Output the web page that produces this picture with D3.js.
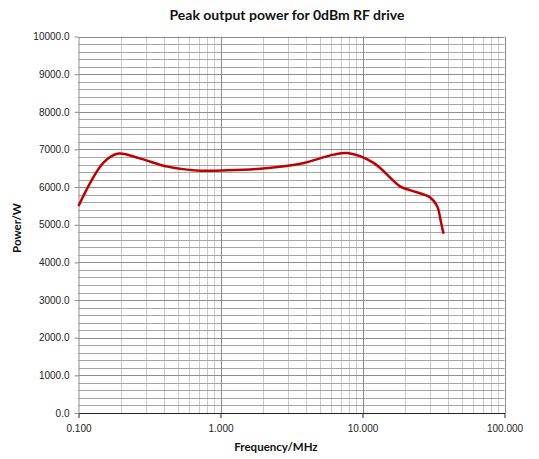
<!DOCTYPE html>
<html>
<head>
<meta charset="utf-8">
<script src="https://cdn.jsdelivr.net/npm/d3@7"></script>
<style>
  body { margin: 0; background: #fff; }
  svg { display: block; font-family: Lato, "Open Sans", sans-serif; }
  .tick text { font-size: 10px; fill: #222; }
  .title, .axis-label { font-weight: bold; fill: #111; }
</style>
</head>
<body>
<script>
// Peak output power vs frequency
const FREQ_MHZ = [0.1, 0.15, 0.191, 0.273, 0.423, 0.723, 1.12, 1.91, 3.66, 6.25, 7.84, 11.9, 18.5, 21.8, 30.1, 33.7, 35.4, 37.2];
const POWER_W  = [5500, 6650, 6890, 6756, 6544, 6437, 6445, 6490, 6620, 6863, 6905, 6650, 6012, 5913, 5719, 5480, 5134, 4762];

const X_TICKS = [0.1, 1, 10, 100];
const Y_TICKS = [0, 1000, 2000, 3000, 4000, 5000, 6000, 7000, 8000, 9000, 10000];

const W = 539, H = 459;
const M = { top: 36.5, right: 34.5, bottom: 46, left: 78.5 };

const svg = d3.select("body").append("svg").attr("width", W).attr("height", H);

const x = d3.scaleLog().domain([0.1, 100]).range([M.left, W - M.right]);
const y = d3.scaleLinear().domain([0, 10000]).range([H - M.bottom, M.top]);

const g = svg.append("g");

// minor grid: 2..9 per decade, every 200 W
const minorX = [];
[0.1, 1, 10].forEach(d => { for (let k = 2; k <= 9; k++) minorX.push(d * k); });
const minorY = d3.range(200, 10000, 200).filter(v => v % 1000 !== 0);

g.selectAll(".mx").data(minorX).join("line")
  .attr("x1", d => Math.round(x(d)) + 0.5).attr("x2", d => Math.round(x(d)) + 0.5)
  .attr("y1", y(0)).attr("y2", y(10000))
  .attr("stroke", "#c8c8c8").attr("stroke-width", 1);
g.selectAll(".my").data(minorY).join("line")
  .attr("x1", x(0.1)).attr("x2", x(100))
  .attr("y1", d => Math.round(y(d)) + 0.5).attr("y2", d => Math.round(y(d)) + 0.5)
  .attr("stroke", "#a6a6a6").attr("stroke-width", 1);

// major grid
g.selectAll(".Mx").data(X_TICKS.slice(1)).join("line")
  .attr("x1", d => Math.round(x(d)) + 0.5).attr("x2", d => Math.round(x(d)) + 0.5)
  .attr("y1", y(0)).attr("y2", y(10000))
  .attr("stroke", "#8c8c8c").attr("stroke-width", 1);
g.selectAll(".My").data(Y_TICKS.slice(1)).join("line")
  .attr("x1", x(0.1)).attr("x2", x(100))
  .attr("y1", d => Math.round(y(d)) + 0.5).attr("y2", d => Math.round(y(d)) + 0.5)
  .attr("stroke", "#8c8c8c").attr("stroke-width", 1);

// axes
const xAxis = d3.axisBottom(x).tickValues(X_TICKS).tickFormat(d3.format(".3f")).tickSize(5).tickSizeOuter(0);
svg.append("g").attr("transform", `translate(0,${y(0)})`).call(xAxis)
  .call(s => s.selectAll("text").attr("dy", "1.1em"))
  .call(s => s.selectAll("line,path").attr("stroke", "#222"));

const yAxis = d3.axisLeft(y).tickValues(Y_TICKS).tickFormat(d3.format(".1f")).tickSize(4).tickSizeOuter(0);
svg.append("g").attr("transform", `translate(${x(0.1)},0)`).call(yAxis)
  .call(s => s.selectAll("text").attr("x", -9))
  .call(s => s.selectAll("line,path").attr("stroke", "#8c8c8c"));

// the curve
const line = d3.line()
  .x((d, i) => x(FREQ_MHZ[i]))
  .y(d => y(d))
  .curve(d3.curveCatmullRom.alpha(0.5));

svg.append("path").datum(POWER_W)
  .attr("d", line)
  .attr("fill", "none")
  .attr("stroke", "#c00000")
  .attr("stroke-width", 2.5)
  .attr("stroke-linejoin", "round");

// titles
svg.append("text").attr("class", "title")
  .attr("x", 287).attr("y", 20).attr("text-anchor", "middle")
  .style("font-size", "14px")
  .text("Peak output power for 0dBm RF drive");

svg.append("text").attr("class", "axis-label")
  .attr("x", 276).attr("y", 451).attr("text-anchor", "middle")
  .style("font-size", "11.5px")
  .text("Frequency/MHz");

svg.append("text").attr("class", "axis-label")
  .attr("transform", "translate(21,228) rotate(-90)")
  .attr("text-anchor", "middle")
  .style("font-size", "11.5px")
  .text("Power/W");
</script>
</body>
</html>
